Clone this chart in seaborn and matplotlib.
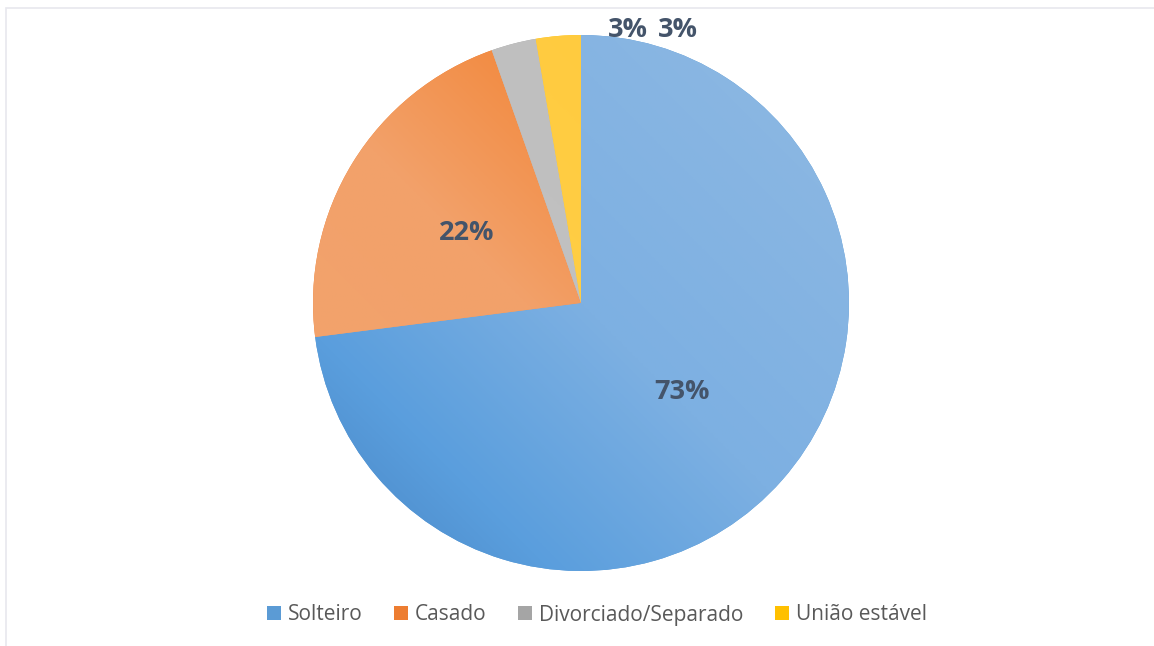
import numpy as np
import matplotlib
matplotlib.use("Agg")
import matplotlib.pyplot as plt
from matplotlib.colors import LinearSegmentedColormap
from matplotlib.patches import Rectangle
import seaborn as sns

# estado civil dos respondentes (contagens)
categories = ["Solteiro", "Casado", "Divorciado/Separado", "União estável"]
counts = [27, 8, 1, 1]
base_colors = ["#5B9BD5", "#ED7D31", "#A5A5A5", "#FFC000"]

# gradientes aproximados de cada fatia (ao longo da diagonal)
grad_stops = [
    [(0.0, "#4683C2"), (0.22, "#5A9EDD"), (0.5, "#7DB0E2"), (1.0, "#8FB9E2")],
    [(0.0, "#F2A46E"), (0.45, "#F2A16A"), (0.72, "#F38638"), (1.0, "#F4781C")],
    [(0.0, "#C4C4C4"), (1.0, "#BDBDBD")],
    [(0.0, "#FFD24F"), (1.0, "#FFC93A")],
]

sns.set_theme(style="white")
plt.rcParams["font.family"] = ["Open Sans", "DejaVu Sans"]

palette = sns.color_palette(base_colors)

fig = plt.figure(figsize=(11.54, 6.46), dpi=100)
ax = fig.add_axes([0, 0, 1, 1])

cx, cy, R = 581, 303, 268  # pixel centre / radius of the pie

wedges, texts, autotexts = ax.pie(
    counts,
    colors=palette,
    startangle=90,
    counterclock=False,
    autopct="%1.0f%%",
    pctdistance=0.5,
    wedgeprops=dict(linewidth=0),
    textprops=dict(fontsize=19.5, fontweight="bold", color="#44546A"),
)

# gradient fill clipped to each wedge
xx, yy = np.meshgrid(np.linspace(-1, 1, 400), np.linspace(-1, 1, 400))
diag = (xx + yy) / 2.0
diag = (diag - diag.min()) / (diag.max() - diag.min())
for w, stops in zip(wedges, grad_stops):
    cmap = LinearSegmentedColormap.from_list("g", stops)
    im = ax.imshow(diag, extent=[-1, 1, -1, 1], origin="lower", cmap=cmap,
                   vmin=0, vmax=1, zorder=w.get_zorder() + 0.1,
                   interpolation="bilinear")
    im.set_clip_path(w)

# small slices: labels above the pie, like the original
autotexts[2].set_position(((628 - cx) / R, (cy - 30) / R))
autotexts[3].set_position(((678 - cx) / R, (cy - 30) / R))
for t in autotexts:
    t.set_zorder(10)

ax.set_xlim(-cx / R, (1154 - cx) / R)
ax.set_ylim(-(646 - cy) / R, cy / R)
ax.set_aspect("equal")
ax.axis("off")

leg = fig.legend(
    wedges,
    categories,
    loc="center",
    bbox_to_anchor=(597 / 1154, 1 - 615 / 646),
    ncol=4,
    frameon=False,
    fontsize=15,
    handlelength=0.66,
    handleheight=0.66,
    handletextpad=0.35,
    columnspacing=1.5,
)
for t in leg.get_texts():
    t.set_color("#595959")

# faint chart-area border (cropped at right/bottom)
fig.patches.append(Rectangle((6 / 1154, -0.1), 1.2, 1.1 - 8 / 646,
                             transform=fig.transFigure, fill=False,
                             edgecolor="#E8E8EE", linewidth=1.2))

fig.savefig("out.png", dpi=100)
